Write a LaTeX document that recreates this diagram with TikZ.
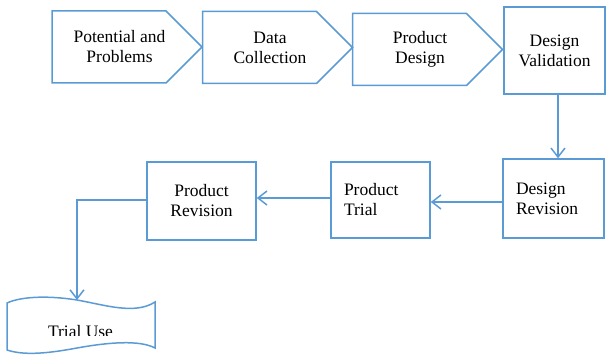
\documentclass[tikz,border=0pt]{standalone}
\usepackage{fontspec}
\setmainfont{Liberation Serif}
\usetikzlibrary{arrows.meta,calc}
\definecolor{lineblue}{RGB}{91,155,213}
\begin{document}
\begin{tikzpicture}[x=1pt,y=-1pt,
  line/.style={draw=lineblue,line width=1.5pt,line join=miter},
  txt/.style={font=\fontsize{17.5}{20}\selectfont, align=center, inner sep=0pt},
  boxr/.style={line, txt, rectangle, inner sep=0pt},
  arr/.style={draw=lineblue,line width=1.5pt,-{Straight Barb[length=9pt,width=14pt]}}]
\useasboundingbox (0,0) rectangle (609,363);

% chevron steps
\node[txt] (pp) at (119.5,47) {Potential and\\Problems};
\node[txt] (dc) at (270,47.5) {Data\\Collection};
\node[txt] (pd) at (420,49.5) {Product\\Design};
\foreach \n in {pp,dc,pd}
  \draw[line] ([shift={(-67.5,-36)}]\n.center) -- ([shift={(46.5,-36)}]\n.center)
    -- ([shift={(82.5,0)}]\n.center) -- ([shift={(46.5,36)}]\n.center)
    -- ([shift={(-67.5,36)}]\n.center) -- cycle;

% boxes
\node[boxr, minimum width=101pt, minimum height=87pt] (val) at (554.5,50.5) {Design\\Validation};
\node[boxr, minimum width=101pt, minimum height=79pt, text width=75pt, align=left] (drev) at (553.5,198.5) {Design\\Revision};
\node[boxr, minimum width=99pt, minimum height=76pt, text width=73pt, align=left] (ptrial) at (380.5,200) {Product\\Trial};
\node[boxr, minimum width=109pt, minimum height=78pt] (prev) at (201.5,201) {Product\\Revision};

% wave shape
\draw[line] (7,303) .. controls (20,297) and (45,295) .. (77,300)
  .. controls (105,305) and (135,315) .. (155,302) -- (155,348)
  .. controls (140,340) and (110,342) .. (77,348)
  .. controls (50,353) and (25,356) .. (7,350) -- cycle;
\begin{scope}
  \clip (0,290) rectangle (609,335.5);
  \node[txt, anchor=base] (tu) at (80.5,337) {Trial Use};
\end{scope}
\coordinate (tin) at (77,300);

% connectors
\draw[arr] ([xshift=3.5pt]val.south) -- ([xshift=3.5pt]val.south |- drev.north);
\draw[arr] ([yshift=-3.5pt]drev.west) -- ([yshift=-3.5pt]drev.west -| ptrial.east);
\draw[arr] ([yshift=2pt]ptrial.west) -- ([yshift=2pt]ptrial.west -| prev.east);
\draw[arr] ([yshift=1pt]prev.west) -| (tin);
\end{tikzpicture}
\end{document}
